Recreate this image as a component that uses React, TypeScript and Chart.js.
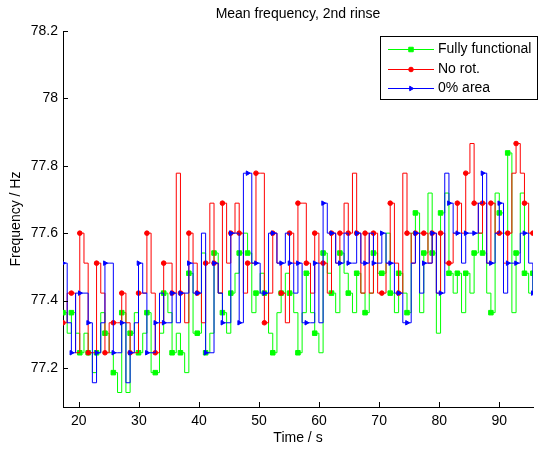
import React, { useEffect, useRef } from 'react';
import { Chart, registerables } from 'chart.js';
import { drawPoint } from 'chart.js/helpers';

Chart.register(...registerables);

const FONT = "'Liberation Sans', Arial, Helvetica, sans-serif";

// sampling grid of the recorded signal (s)
const startTime = 17.364;
const sampleStep = 0.6985;

const fullyFunctional = [
  77.364, 77.303, 77.364, 77.303, 77.245, 77.303, 77.245, 77.186, 77.245, 77.364,
  77.303, 77.245, 77.186, 77.127, 77.364, 77.127, 77.303, 77.364, 77.245, 77.303,
  77.364, 77.186, 77.186, 77.303, 77.422, 77.364, 77.245, 77.303, 77.245, 77.186,
  77.481, 77.303, 77.303, 77.541, 77.245, 77.303, 77.541, 77.422, 77.364, 77.303,
  77.422, 77.481, 77.541, 77.600, 77.541, 77.364, 77.422, 77.481, 77.422, 77.303,
  77.245, 77.364, 77.422, 77.481, 77.422, 77.364, 77.245, 77.364, 77.481, 77.364,
  77.303, 77.245, 77.541, 77.481, 77.422, 77.364, 77.541, 77.481, 77.422, 77.364,
  77.481, 77.422, 77.364, 77.422, 77.541, 77.481, 77.481, 77.600, 77.422, 77.364,
  77.481, 77.422, 77.364, 77.600, 77.660, 77.364, 77.541, 77.719, 77.541, 77.303,
  77.660, 77.719, 77.481, 77.422, 77.481, 77.364, 77.481, 77.422, 77.541, 77.600,
  77.541, 77.422, 77.364, 77.719, 77.660, 77.600, 77.838, 77.364, 77.541, 77.719,
  77.481, 77.422, 77.481,
];

const noRot = [
  77.334, 77.422, 77.422, 77.245, 77.600, 77.511, 77.245, 77.245, 77.511, 77.422,
  77.245, 77.334, 77.334, 77.334, 77.422, 77.334, 77.245, 77.245, 77.422, 77.422,
  77.600, 77.422, 77.245, 77.334, 77.511, 77.511, 77.422, 77.778, 77.422, 77.334,
  77.600, 77.511, 77.422, 77.334, 77.511, 77.689, 77.511, 77.422, 77.689, 77.511,
  77.600, 77.689, 77.600, 77.422, 77.511, 77.511, 77.778, 77.778, 77.334, 77.422,
  77.600, 77.511, 77.422, 77.334, 77.600, 77.511, 77.689, 77.689, 77.511, 77.422,
  77.600, 77.511, 77.511, 77.422, 77.600, 77.511, 77.600, 77.689, 77.600, 77.778,
  77.600, 77.422, 77.600, 77.422, 77.600, 77.422, 77.422, 77.511, 77.689, 77.511,
  77.422, 77.778, 77.600, 77.511, 77.600, 77.600, 77.600, 77.511, 77.600, 77.422,
  77.600, 77.511, 77.511, 77.600, 77.689, 77.600, 77.778, 77.866, 77.689, 77.600,
  77.689, 77.511, 77.689, 77.600, 77.600, 77.511, 77.600, 77.778, 77.866, 77.778,
  77.689, 77.600, 77.600,
];

const zeroArea = [
  77.511, 77.334, 77.245, 77.422, 77.422, 77.422, 77.334, 77.156, 77.245, 77.334,
  77.511, 77.511, 77.245, 77.245, 77.334, 77.156, 77.245, 77.334, 77.511, 77.422,
  77.245, 77.245, 77.334, 77.422, 77.334, 77.334, 77.422, 77.334, 77.422, 77.422,
  77.511, 77.422, 77.422, 77.600, 77.245, 77.245, 77.511, 77.422, 77.334, 77.334,
  77.600, 77.600, 77.334, 77.778, 77.778, 77.511, 77.511, 77.422, 77.422, 77.600,
  77.600, 77.511, 77.511, 77.600, 77.511, 77.422, 77.511, 77.334, 77.334, 77.334,
  77.511, 77.334, 77.689, 77.600, 77.600, 77.511, 77.511, 77.600, 77.511, 77.511,
  77.600, 77.511, 77.511, 77.600, 77.511, 77.511, 77.600, 77.511, 77.511, 77.422,
  77.422, 77.334, 77.334, 77.511, 77.600, 77.422, 77.511, 77.511, 77.600, 77.422,
  77.422, 77.778, 77.689, 77.600, 77.600, 77.511, 77.600, 77.600, 77.600, 77.689,
  77.778, 77.511, 77.511, 77.600, 77.689, 77.422, 77.511, 77.511, 77.511, 77.600,
  77.600, 77.511, 77.422,
];

const seriesLabels = ['Fully functional', 'No rot.', '0% area'];
const seriesColors = ['#00ff00', '#ff0000', '#0000ff'];
const xTickValues = [20, 30, 40, 50, 60, 70, 80, 90];
const yTickValues = [77.2, 77.4, 77.6, 77.8, 78, 78.2];
const titleText = 'Mean frequency, 2nd rinse';
const xTitleText = 'Time / s';
const yTitleText = 'Frequency / Hz';
const xLimits = [17.364, 95.62];
const yLimits = [77.084, 78.2];

const markerStyles = [
  { pointStyle: 'rect', radius: 3.2, rotation: 0 },
  { pointStyle: 'circle', radius: 2.3, rotation: 0 },
  { pointStyle: 'triangle', radius: 2.6, rotation: 90 },
];

const toPoints = (vals: number[]) =>
  vals.map((y, i) => ({ x: startTime + i * sampleStep, y }));

const decorPlugin = {
  id: 'matlabDecor',
  afterDraw(chart: any) {
    const { ctx, chartArea: a, scales } = chart;
    ctx.save();
    // inward tick marks
    ctx.strokeStyle = '#000';
    ctx.lineWidth = 1;
    ctx.beginPath();
    for (const v of yTickValues) {
      const y = Math.round(scales.y.getPixelForValue(v)) + 0.5;
      ctx.moveTo(a.left, y);
      ctx.lineTo(a.left + 5, y);
    }
    for (const v of xTickValues) {
      const x = Math.round(scales.x.getPixelForValue(v)) + 0.5;
      ctx.moveTo(x, a.bottom);
      ctx.lineTo(x, a.bottom - 5);
    }
    ctx.stroke();

    // title
    ctx.fillStyle = '#000';
    ctx.font = `14px ${FONT}`;
    ctx.textAlign = 'center';
    ctx.textBaseline = 'middle';
    ctx.fillText(titleText, (a.left + a.right) / 2, 14);

    // legend box
    const bx = 380.5, by = 36.5, bw = 157, bh = 63;
    ctx.fillStyle = '#fff';
    ctx.fillRect(bx, by, bw, bh);
    ctx.strokeStyle = '#000';
    ctx.strokeRect(bx, by, bw, bh);
    const rows = [49.5, 69.5, 88.5];
    chart.data.datasets.forEach((ds: any, i: number) => {
      const y = rows[i];
      ctx.strokeStyle = ds.borderColor;
      ctx.fillStyle = ds.borderColor;
      ctx.lineWidth = 1;
      ctx.beginPath();
      ctx.moveTo(388, y);
      ctx.lineTo(434, y);
      ctx.stroke();
      const m = markerStyles[i];
      drawPoint(ctx, { pointStyle: m.pointStyle as any, radius: m.radius, rotation: m.rotation, borderWidth: 1 } as any, 411, y);
      ctx.fillStyle = '#000';
      ctx.font = `14px ${FONT}`;
      ctx.textAlign = 'left';
      ctx.textBaseline = 'middle';
      ctx.fillText(ds.label, 438, y);
    });
    ctx.restore();
  },
};

export default function App() {
  const ref = useRef<HTMLCanvasElement | null>(null);

  useEffect(() => {
    if (!ref.current) return;
    const seriesValues = [fullyFunctional, noRot, zeroArea];
    const orders = [2, 1, 0];
    const chart = new Chart(ref.current, {
      type: 'line',
      data: {
        datasets: seriesValues.map((vals, i) => ({
          label: seriesLabels[i],
          data: toPoints(vals),
          borderColor: seriesColors[i],
          backgroundColor: seriesColors[i],
          borderWidth: 1,
          stepped: 'before' as const,
          tension: 0,
          fill: false,
          order: orders[i],
          pointStyle: markerStyles[i].pointStyle as any,
          pointRotation: markerStyles[i].rotation,
          pointRadius: (c: any) => (c.dataIndex % 2 === 0 ? markerStyles[i].radius : 0),
          pointBorderWidth: 1,
          pointBorderColor: seriesColors[i],
          pointBackgroundColor: seriesColors[i],
        })),
      },
      options: {
        animation: false,
        responsive: false,
        devicePixelRatio: 1,
        events: [],
        layout: { padding: { top: 31, right: 0, left: 0, bottom: 0 } },
        plugins: {
          legend: { display: false },
          title: { display: false },
          tooltip: { enabled: false },
        },
        scales: {
          x: {
            type: 'linear',
            min: xLimits[0],
            max: xLimits[1],
            afterBuildTicks: (s: any) => {
              s.ticks = xTickValues.map((value) => ({ value }));
            },
            afterFit: (s: any) => {
              s.height = 43;
            },
            grid: { display: false, drawTicks: false },
            border: { display: true, color: '#000', width: 1 },
            ticks: {
              autoSkip: false,
              maxRotation: 0,
              color: '#000',
              padding: 6,
              font: { family: FONT, size: 14 },
              callback: (v: any) => String(Math.round(Number(v) * 10) / 10),
            },
            title: {
              display: true,
              text: xTitleText,
              color: '#000',
              font: { family: FONT, size: 14 },
              padding: { top: 0, bottom: 3.6 },
            },
          },
          y: {
            type: 'linear',
            min: yLimits[0],
            max: yLimits[1],
            afterBuildTicks: (s: any) => {
              s.ticks = yTickValues.map((value) => ({ value }));
            },
            afterFit: (s: any) => {
              s.width = 63;
            },
            grid: { display: false, drawTicks: false },
            border: { display: true, color: '#000', width: 1 },
            ticks: {
              color: '#000',
              padding: 5,
              font: { family: FONT, size: 14 },
              callback: (v: any) => String(Math.round(Number(v) * 10) / 10),
            },
            title: {
              display: true,
              text: yTitleText,
              color: '#000',
              font: { family: FONT, size: 14 },
              padding: { top: 7.6, bottom: 0 },
            },
          },
        },
      },
      plugins: [decorPlugin],
    });
    return () => chart.destroy();
  }, []);

  return (
    <div style={{ position: 'absolute', left: 0, top: 0, width: 538, height: 450, background: '#fff' }}>
      <canvas ref={ref} width={538} height={450} style={{ display: 'block' }} />
    </div>
  );
}
